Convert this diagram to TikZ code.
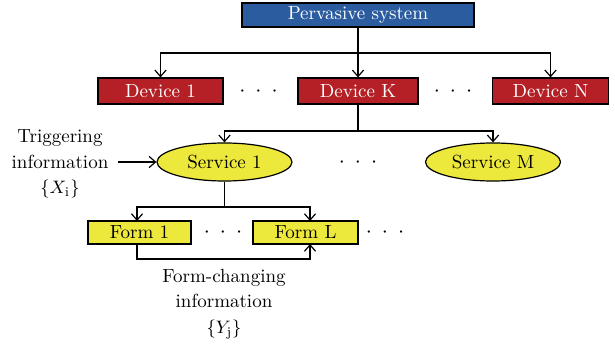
\documentclass[tikz,border=0pt]{standalone}
\usepackage{fontspec}
\usetikzlibrary{arrows.meta,shapes.geometric}
\definecolor{sysblue}{RGB}{43,92,160}
\definecolor{devred}{RGB}{180,32,38}
\definecolor{svcyellow}{RGB}{237,232,60}
\tikzset{
  box/.style={draw=black, line width=0.6pt, inner sep=0pt, minimum height=12.5pt,
    font=\fontsize{9.5}{11}\selectfont},
  sysbox/.style={box, fill=sysblue, text=white, minimum height=12pt},
  devbox/.style={box, fill=devred, text=white, minimum height=13pt},
  formbox/.style={box, fill=svcyellow, minimum height=11.5pt},
  svc/.style={ellipse, draw=black, line width=0.6pt, fill=svcyellow, inner sep=0pt,
    minimum width=67.5pt, minimum height=19pt, font=\fontsize{9.5}{11}\selectfont},
  link/.style={line width=0.6pt},
  arr/.style={link, -{Straight Barb[length=3.2pt,width=5.6pt,line width=0.6pt]}},
  dots/.style={font=\fontsize{10.5}{11}\selectfont},
  lbl/.style={align=center, font=\fontsize{9.5}{12.8}\selectfont}
}
\newcommand{\threedots}{$\cdot\kern2.6pt\cdot\kern2.6pt\cdot$}
\begin{document}
\begin{tikzpicture}[x=0.5pt, y=-0.5pt]
\useasboundingbox (0,0) rectangle (615,347);

% top level
\node[sysbox, minimum width=116pt] (sys) at (358,15) {Pervasive system};

% devices
\node[devbox, minimum width=62.5pt] (d1) at (160.5,91) {Device 1};
\node[devbox, minimum width=60pt] (dk) at (358,91) {Device K};
\node[devbox, minimum width=58pt] (dn) at (550.5,91) {Device N};
\node[dots] (dd1) at (258.5,92) {\threedots};
\node[dots] (dd2) at (453,92) {\threedots};

% services
\node[svc] (s1) at (224.5,162) {Service 1};
\node[svc] (sm) at (493,162) {Service M};
\node[dots] (ds) at (358,163) {\threedots};

% forms
\node[formbox, minimum width=51.5pt] (f1) at (139.5,232.5) {Form 1};
\node[formbox, minimum width=52.5pt] (fl) at (305.5,232.5) {Form L};
\node[dots] (df1) at (223,233) {\threedots};
\node[dots] (df2) at (385,233) {\threedots};

% labels
\node[lbl] (trig) at (60,164) {Triggering\\information\\$\{X_{\mathrm{i}}\}$};
\node[lbl] (fch) at (224,304) {Form-changing\\information\\$\{Y_{\mathrm{j}}\}$};

% system to devices
\coordinate (bus1) at (358,53);
\draw[link] (sys.south) -- (bus1);
\draw[arr] (bus1) -| (d1.north);
\draw[arr] (bus1) -- (dk.north);
\draw[arr] (bus1) -| (dn.north);

% device K to services
\coordinate (bus2) at (358,131);
\draw[link] (dk.south) -- (bus2);
\draw[arr] (bus2) -| (s1.north);
\draw[arr] (bus2) -| (sm.north);

% triggering input
\coordinate (tin) at (118,162);
\draw[arr] (tin) -- (s1.west);

% service 1 to forms
\coordinate (bus3) at (224.5,207);
\coordinate (f1top) at (137,221);
\coordinate (fltop) at (310,221);
\draw[link] (s1.south) -- (bus3);
\draw[arr] (bus3) -| (f1top);
\draw[arr] (bus3) -| (fltop);

% form-changing loop
\coordinate (f1bot) at (137,244);
\coordinate (flbot) at (310,244);
\draw[arr] (f1bot) -- (137,259) -| (flbot);
\end{tikzpicture}
\end{document}
